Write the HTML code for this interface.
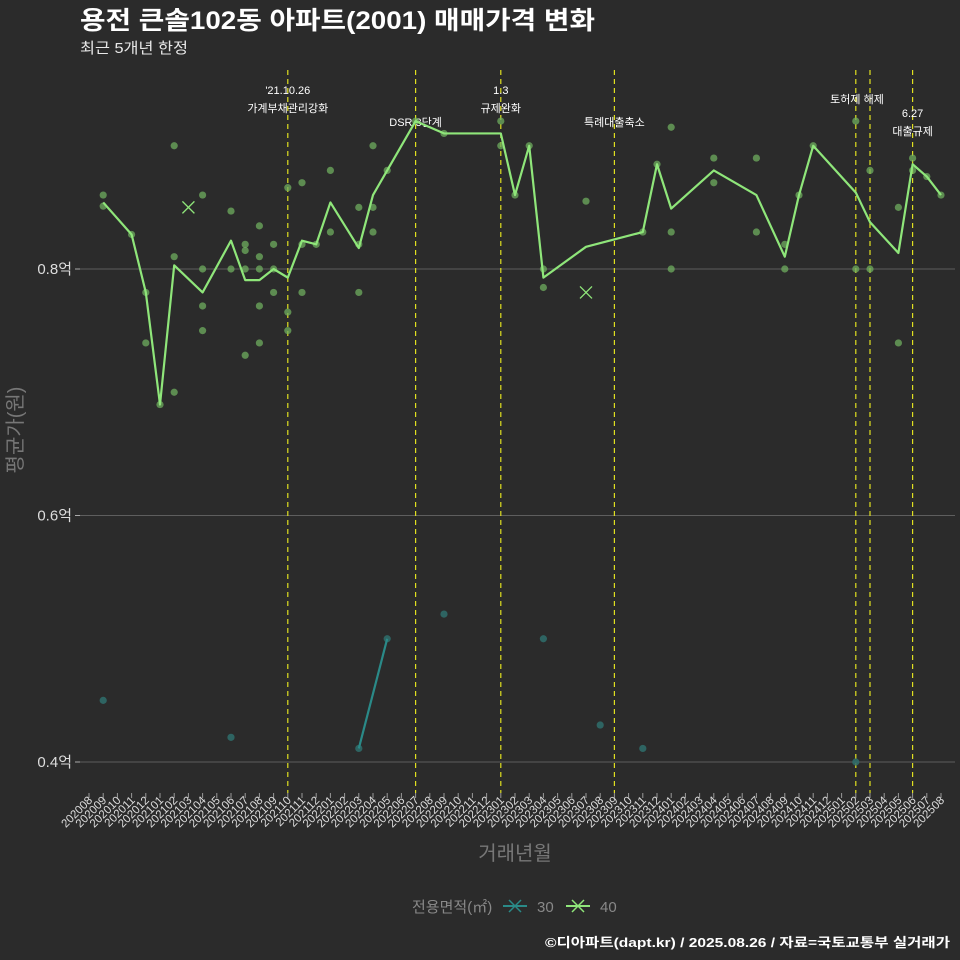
<!DOCTYPE html>
<html><head><meta charset="utf-8">
<style>
html,body{margin:0;padding:0;background:#2b2b2b;}
body{width:960px;height:960px;overflow:hidden;font-family:"Liberation Sans","Noto Sans CJK KR",sans-serif;}
svg{display:block;}
svg text{font-family:"Liberation Sans","Noto Sans CJK KR",sans-serif;}
</style></head>
<body>
<svg id="chart" width="960" height="960" xmlns="http://www.w3.org/2000/svg">
<rect x="0" y="0" width="960" height="960" fill="#2b2b2b"/>
<text x="80" y="29" font-size="25" font-weight="bold" fill="#ffffff" textLength="515" lengthAdjust="spacingAndGlyphs">용전 큰솔102동 아파트(2001) 매매가격 변화</text>
<text x="80" y="53" font-size="15" fill="#e8e8e8" textLength="108" lengthAdjust="spacingAndGlyphs">최근 5개년 한정</text>
<g id="grid"></g>
<g id="vlines"></g>
<g id="marks"></g>
<g id="xaxis"></g>
<text x="0" y="0" transform="translate(22,430) rotate(-90)" text-anchor="middle" font-size="20" fill="#777">평균가(원)</text>
<text x="515" y="860" text-anchor="middle" font-size="20" fill="#777">거래년월</text>
<g>
<text x="412" y="912" font-size="15" fill="#888">전용면적(㎡)</text>
<g>
<line x1="503" y1="906" x2="527" y2="906" stroke="#2a8a88" stroke-width="2"/>
<path d="M509,900 L521,912 M521,900 L509,912" stroke="#2a8a88" stroke-width="1.5"/>
<text x="537" y="912" font-size="15" fill="#888">30</text></g>
<g>
<line x1="566" y1="906" x2="590" y2="906" stroke="#8fe67a" stroke-width="2"/>
<path d="M572,900 L584,912 M584,900 L572,912" stroke="#8fe67a" stroke-width="1.5"/>
<text x="600" y="912" font-size="15" fill="#888">40</text></g>
</g>
<text x="950" y="947" text-anchor="end" font-size="13" font-weight="bold" fill="#ffffff" textLength="405" lengthAdjust="spacingAndGlyphs">©디아파트(dapt.kr) / 2025.08.26 / 자료=국토교통부 실거래가</text>
</svg>
<script>
const months = [];
for (let y = 2020, m = 8; months.length < 61; m++) { if (m > 12) { m = 1; y++; } months.push(String(y) + String(m).padStart(2, '0')); }
const yTicks = [0.4, 0.6, 0.8];
const yTickLabels = ['0.4억', '0.6억', '0.8억'];
const line40Months = ['202009','202011','202012','202101','202102','202104','202106','202107','202108','202109','202110','202111','202112','202201','202203','202204','202205','202207','202209','202301','202302','202303','202304','202307','202311','202312','202401','202404','202407','202409','202410','202411','202502','202503','202505','202506','202507','202508'];
const line40Values = [0.854,0.828,0.781,0.690,0.803,0.781,0.823,0.791,0.791,0.800,0.793,0.823,0.820,0.854,0.817,0.860,0.880,0.920,0.910,0.910,0.860,0.900,0.793,0.818,0.830,0.885,0.849,0.880,0.860,0.810,0.860,0.900,0.862,0.838,0.813,0.885,0.875,0.860];
const line30Months = ['202203','202205'];
const line30Values = [0.411, 0.500];
const pts40Months = ['202009','202009','202011','202012','202012','202101','202102','202102','202102','202104','202104','202104','202104','202106','202106','202107','202107','202107','202107','202108','202108','202108','202108','202108','202109','202109','202109','202110','202110','202110','202111','202111','202111','202112','202201','202201','202203','202203','202203','202204','202204','202204','202205','202207','202209','202301','202301','202302','202303','202304','202304','202307','202311','202312','202401','202401','202401','202404','202404','202407','202407','202409','202409','202410','202411','202502','202502','202503','202503','202505','202505','202506','202506','202507','202508'];
const pts40Values = [0.860,0.851,0.828,0.781,0.740,0.690,0.900,0.810,0.700,0.860,0.800,0.770,0.750,0.847,0.800,0.820,0.815,0.800,0.730,0.835,0.810,0.800,0.770,0.740,0.820,0.800,0.781,0.866,0.765,0.750,0.870,0.820,0.781,0.820,0.880,0.830,0.850,0.820,0.781,0.900,0.850,0.830,0.880,0.920,0.910,0.920,0.900,0.860,0.900,0.800,0.785,0.855,0.830,0.885,0.915,0.830,0.800,0.890,0.870,0.890,0.830,0.820,0.800,0.860,0.900,0.920,0.800,0.880,0.800,0.850,0.740,0.890,0.880,0.875,0.860];
const pts30Months = ['202009','202106','202203','202205','202209','202304','202308','202311','202502'];
const pts30Values = [0.450,0.420,0.411,0.500,0.520,0.500,0.430,0.411,0.400];
const cancelMonths = ['202103','202307'];
const cancelValues = [0.850,0.781];
const eventMonths = ['202110','202207','202301','202309','202502','202503','202506'];
const eventLabels = [["'21.10.26","가계부채관리강화"],["DSR 3단계"],["1.3","규제완화"],["특례대출축소"],[],[],["6.27","대출규제"]];

const NS = 'http://www.w3.org/2000/svg';
const xScale = m => 89 + months.indexOf(m) * 14.2;
const yScale = v => 762 - (v - 0.4) * 1232.5;
function mk(tag, attrs, parent) { const e = document.createElementNS(NS, tag); for (const k in attrs) e.setAttribute(k, attrs[k]); parent.appendChild(e); return e; }
const grid = document.getElementById('grid'), vl = document.getElementById('vlines'), marks = document.getElementById('marks'), xa = document.getElementById('xaxis');

yTicks.forEach((v, i) => {
  const g = mk('line', {x1: 75, x2: 955, y1: yScale(v), y2: yScale(v), stroke: '#5e5e5e', 'stroke-width': 1}, grid);
  
  
  mk('line', {x1: 75, x2: 80, y1: yScale(v), y2: yScale(v), stroke: '#aaa'}, grid);
  const t = mk('text', {x: 72, y: yScale(v) + 5, 'text-anchor': 'end', 'font-size': 15, fill: '#dddddd'}, grid);
  t.textContent = yTickLabels[i];
  
  
});

months.forEach(m => {
  const x = xScale(m);
  mk('line', {x1: x, x2: x, y1: 793, y2: 798, stroke: '#999'}, xa);
  const t = mk('text', {x: 0, y: 0, transform: `translate(${x + 4},${801}) rotate(-45)`, 'text-anchor': 'end', 'font-size': 11.5, fill: '#dddddd'}, xa);
  t.textContent = m;
  
  
});

eventMonths.forEach((m, i) => {
  const x = xScale(m);
  const l = mk('line', {x1: x, x2: x, y1: 70, y2: 793, stroke: '#e0e020', 'stroke-width': 1.2, 'stroke-dasharray': '5,4'}, vl);
  
  
  const lab = eventLabels[i];
  const y0 = lab.length === 1 ? 126 : (m === '202506' ? 117 : 94);
  lab.forEach((s, j) => {
    const t = mk('text', {x: x, y: y0 + j * 18, 'text-anchor': 'middle', 'font-size': 11, fill: '#ffffff'}, vl);
    t.textContent = s;
    
    
  });
});
const th = mk('text', {x: 857, y: 103, 'text-anchor': 'middle', 'font-size': 11, fill: '#ffffff'}, vl);
th.textContent = '토허제 해제';



pts30Months.forEach((m, i) => {
  const c = mk('circle', {cx: xScale(m), cy: yScale(pts30Values[i]), r: 3.6, fill: '#2f6e6c', 'fill-opacity': 0.85}, marks);
  
  
});
pts40Months.forEach((m, i) => {
  const c = mk('circle', {cx: xScale(m), cy: yScale(pts40Values[i]), r: 3.6, fill: '#6fae5f', 'fill-opacity': 0.75}, marks);
  
  
});
const p30 = mk('polyline', {points: line30Months.map((m, i) => xScale(m) + ',' + yScale(line30Values[i])).join(' '), fill: 'none', stroke: '#2a8a88', 'stroke-width': 2.2}, marks);


const p40 = mk('polyline', {points: line40Months.map((m, i) => xScale(m) + ',' + yScale(line40Values[i])).join(' '), fill: 'none', stroke: '#8fe67a', 'stroke-width': 2.2, 'stroke-linejoin': 'round'}, marks);


cancelMonths.forEach((m, i) => {
  const x = xScale(m), y = yScale(cancelValues[i]);
  const c = mk('path', {d: `M${x-6},${y-6} L${x+6},${y+6} M${x+6},${y-6} L${x-6},${y+6}`, stroke: '#8fe67a', 'stroke-width': 1.3}, marks);
  
  
});
</script>
</body></html>
